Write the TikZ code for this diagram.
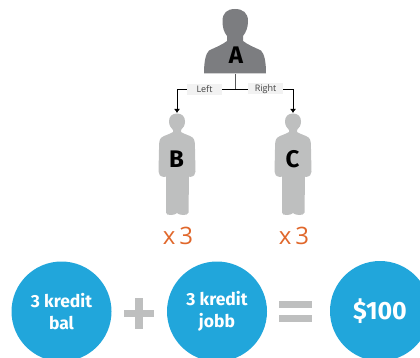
\documentclass[tikz,border=0pt]{standalone}
\usepackage{fontspec}
\usetikzlibrary{arrows.meta}
\setmainfont{Fira Sans}
\newfontfamily\osans{Open Sans}
\definecolor{bluec}{HTML}{21A6DB}
\definecolor{greyd}{HTML}{7C7D80}
\definecolor{greyl}{HTML}{BEBFBF}
\definecolor{orangex}{HTML}{E0672B}
\definecolor{labelbg}{HTML}{F2F2F2}
\tikzset{
  bigcirc/.style={circle,fill=bluec,minimum size=100pt,inner sep=0pt,text=white,font=\bfseries\fontsize{17.5}{22}\selectfont,align=center},
  letter/.style={font=\bfseries\fontsize{24}{24}\selectfont,text=black,inner sep=0pt},
  times/.style={font=\osans\fontsize{24}{24}\selectfont,text=orangex,inner sep=0pt},
  lab/.style={fill=labelbg,minimum width=35pt,minimum height=11pt,inner sep=0pt,font=\osans\fontsize{9}{9}\selectfont,text=black!75},
  conn/.style={draw=black,line width=0.8pt},
  smallperson/.pic={
    \fill[greyl] (0,0) .. controls (-5,0) and (-8,3) .. (-8,8)
      .. controls (-8,12) and (-6,14.5) .. (-4,16.5)
      -- (-4,18.5) .. controls (-8,21) and (-13,22) .. (-15.5,24)
      .. controls (-18,26) and (-18,30) .. (-18,36)
      -- (-18.5,58) .. controls (-18.5,61) and (-17,63) .. (-13,63.5)
      -- (-11,63) -- (-11,99) .. controls (-11,101) and (-9,101.5) .. (-6,101.5)
      .. controls (-3,101.5) and (-1,100.5) .. (0,99.5)
      .. controls (1,100.5) and (3,101.5) .. (6,101.5)
      .. controls (9,101.5) and (11,101) .. (11.5,99)
      -- (12,63) -- (13,63.5) .. controls (17,63) and (18.5,61) .. (18.5,58)
      -- (18,36) .. controls (18,30) and (18,26) .. (15.5,24)
      .. controls (13,22) and (8,21) .. (4,18.5)
      -- (4,16.5) .. controls (6,14.5) and (8,12) .. (8,8)
      .. controls (8,3) and (5,0) .. (0,0) -- cycle;
  }
}
\begin{document}
\begin{tikzpicture}[x=1pt,y=-1pt]
\useasboundingbox (0,0) rectangle (420,358);
\clip (0,0) rectangle (420,358);
% person A
\fill[greyd] (235,9) .. controls (227,9) and (222.5,13) .. (222.5,21)
  .. controls (222.5,28) and (224,32) .. (227,36)
  -- (227,41) .. controls (222,45) and (214,48) .. (209,50.5)
  .. controls (205.5,54) and (204,62) .. (204,73.5)
  -- (266,73.5) .. controls (266,62) and (264.5,54) .. (261,50.5)
  .. controls (256,48) and (248,45) .. (243,41)
  -- (243,36) .. controls (246,32) and (248,28) .. (248,21)
  .. controls (248,13) and (243,9) .. (235,9) -- cycle;
\node[letter] (a) at (236,55) {A};
% persons B and C
\pic at (177,113.5) {smallperson};
\pic at (293,113.5) {smallperson};
\node[letter] (b) at (176.5,159) {B};
\node[letter] (c) at (292.5,159) {C};
\coordinate (abase) at (235,74);
\coordinate (btop) at (177,113);
\coordinate (ctop) at (293,113);
\coordinate (fork) at (235,89.5);
% connectors
\draw[conn,draw=greyd!70!black] (abase) -- (fork);
\draw[conn,-{Latex[length=4pt,width=6pt]}] (fork) -| (btop);
\draw[conn,-{Latex[length=4pt,width=6pt]}] (fork) -| (ctop);
\node[lab] (left) at (204.5,89.5) {Left};
\node[lab] (right) at (265.5,89) {Right};
% multipliers
\node[times] (xb) at (178,236) {x\hspace{0.16em}3};
\node[times] (xc) at (294,236) {x\hspace{0.16em}3};
% equation
\node[bigcirc] (c1) at (61.5,311.5) {3 kredit\\[0.5pt]bal};
\node[bigcirc] (c2) at (217,311.5) {3 kredit\\[0.5pt]jobb};
\node[bigcirc,font=\bfseries\fontsize{25}{25}\selectfont] (c3) at (380,311) {\$100};
\fill[greyl] (124.3,309.5) rectangle (154,317);
\fill[greyl] (135,297.5) rectangle (143.3,329);
\fill[greyl] (279,301) rectangle (312,308.3);
\fill[greyl] (279,314.7) rectangle (312,322);
\end{tikzpicture}
\end{document}
